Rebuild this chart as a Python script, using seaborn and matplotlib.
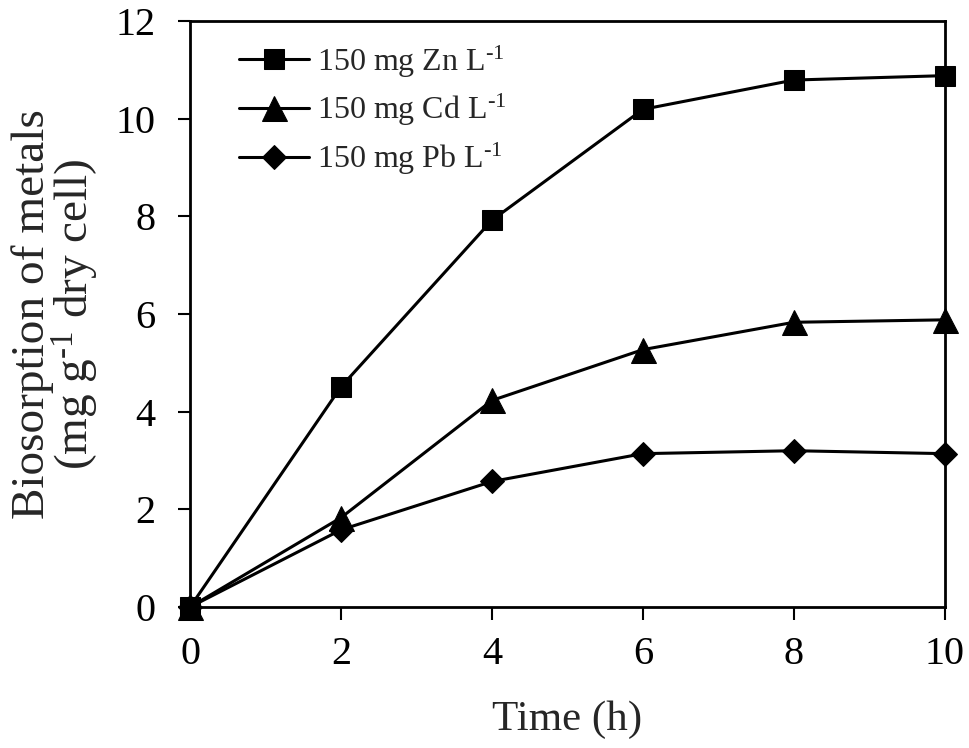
import seaborn as sns
import matplotlib.pyplot as plt
import pandas as pd

# time points (h)
time_h = [0, 2, 4, 6, 8, 10]

# biosorption (mg g-1 dry cell)
zn_uptake = [0, 4.51, 7.92, 10.19, 10.79, 10.88]
cd_uptake = [0, 1.83, 4.23, 5.27, 5.83, 5.88]
pb_uptake = [0, 1.58, 2.57, 3.14, 3.20, 3.14]

series_labels = ["150 mg Zn L$^{\u2010 1}$", "150 mg Cd L$^{\u2010 1}$", "150 mg Pb L$^{\u2010 1}$"]

rows = []
for label, vals in zip(series_labels, [zn_uptake, cd_uptake, pb_uptake]):
    for t, v in zip(time_h, vals):
        rows.append({"Time": t, "Uptake": v, "Series": label})
df = pd.DataFrame(rows)

sns.set_style("ticks")
plt.rcParams["font.family"] = ["Liberation Serif", "DejaVu Serif"]
plt.rcParams["mathtext.default"] = "regular"

fig = plt.figure(figsize=(9.7, 7.48), dpi=100)
ax = fig.add_axes([0.196, 0.1885, 0.778, 0.7835])

markers = {series_labels[0]: "s", series_labels[1]: "^", series_labels[2]: "D"}
sizes = {series_labels[0]: 15, series_labels[1]: 18, series_labels[2]: 12}

for label in series_labels:
    sub = df[df["Series"] == label]
    sns.lineplot(
        data=sub, x="Time", y="Uptake", ax=ax, color="black", linewidth=2.2,
        marker=markers[label], markersize=sizes[label], markeredgecolor="black",
        label=label, clip_on=False, zorder=3,
    )

ax.set_xlim(0, 10)
ax.set_ylim(0, 12)
ax.set_xticks(range(0, 11, 2))
ax.set_yticks(range(0, 13, 2))
ax.tick_params(axis="both", direction="out", length=9, width=1.5, labelsize=29,
               colors="black")
ax.tick_params(axis="x", pad=12)
ax.tick_params(axis="y", pad=16)
for s in ax.spines.values():
    s.set_linewidth(2)
    s.set_color("black")

ax.set_xlabel("Time (h)", fontsize=31, labelpad=20)
ax.set_ylabel("Biosorption of metals\n(mg g$^{\u2010 1}$ dry cell)", fontsize=34,
              labelpad=10, linespacing=0.9)

ax.legend(loc="upper left", frameon=False, fontsize=23, handlelength=2.2,
          labelspacing=0.4, borderaxespad=0.3, handletextpad=0.25,
          bbox_to_anchor=(0.035, 1.0))

fig.savefig("out.png", dpi=100)
